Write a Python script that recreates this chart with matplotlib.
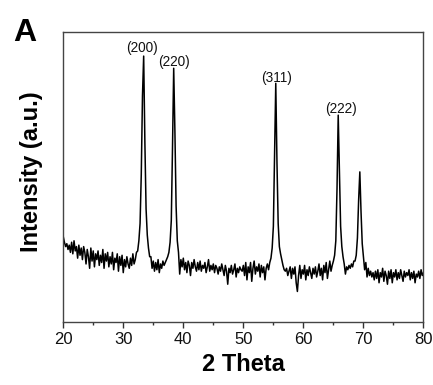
import numpy as np
import matplotlib
matplotlib.use("Agg")
import matplotlib.pyplot as plt
from matplotlib.ticker import MultipleLocator

plt.rcParams['font.family'] = ['Liberation Sans', 'DejaVu Sans']

# 2-theta grid 20.0 ... 80.0 in steps of 0.2 (301 points)
two_theta = np.round(np.arange(0, 301) * 0.2 + 20.0, 1)

intensity = [
    29.5, 27.5, 26.0, 27.0, 25.0, 26.5, 24.0, 27.5, 23.5, 28.0,   # 20.0-21.8
    24.5, 26.0, 22.0, 26.5, 23.0, 25.5, 21.5, 26.0, 24.0, 20.0,   # 22.0-23.8
    25.0, 22.5, 18.5, 25.5, 21.0, 24.5, 19.0, 23.5, 21.5, 24.5,   # 24.0-25.8
    19.5, 23.0, 20.5, 25.0, 18.5, 23.5, 21.0, 24.0, 19.0, 22.5,   # 26.0-27.8
    20.0, 24.0, 18.0, 22.0, 20.5, 23.5, 17.5, 22.5, 19.5, 23.0,   # 28.0-29.8
    17.0, 21.5, 19.0, 22.5, 20.0, 18.5, 22.0, 19.5, 23.5, 20.0,   # 30.0-31.8
    21.5, 24.0, 24.5, 28.0, 34.0, 51.0, 78.0, 91.8, 62.0, 39.0,   # 32.0-33.8
    30.0, 25.5, 22.5, 22.5, 18.5, 21.0, 17.5, 20.5, 18.0, 21.5,   # 34.0-35.8
    17.0, 20.0, 18.5, 21.0, 19.5, 20.5, 21.5, 22.5, 24.0, 27.5,   # 36.0-37.8
    35.0, 60.0, 87.6, 66.0, 40.0, 28.0, 24.0, 16.5, 21.5, 19.0,   # 38.0-39.8
    22.0, 18.0, 20.5, 17.0, 21.0, 19.5, 16.0, 20.5, 18.5, 21.5,   # 40.0-41.8
    19.0, 17.5, 20.5, 18.0, 21.0, 17.5, 19.5, 18.5, 20.5, 17.0,   # 42.0-43.8
    19.0, 21.5, 17.5, 19.5, 18.0, 20.0, 17.0, 19.5, 18.5, 16.5,   # 44.0-45.8
    19.0, 17.5, 20.0, 18.0, 16.0, 19.5, 17.5, 13.0, 18.5, 17.0,   # 46.0-47.8
    19.5, 16.5, 18.0, 20.0, 15.5, 18.5, 17.0, 19.0, 18.0, 17.5,   # 48.0-49.8
    19.5, 16.0, 20.5, 14.5, 19.0, 17.0, 20.5, 14.0, 18.5, 21.0,   # 50.0-51.8
    16.5, 19.0, 17.5, 20.0, 15.5, 19.5, 17.0, 19.0, 14.5, 18.5,   # 52.0-53.8
    20.0, 18.0, 20.5, 22.0, 25.5, 33.0, 58.0, 82.4, 55.0, 34.0,   # 54.0-55.8
    26.0, 23.5, 21.5, 19.5, 18.0, 17.5, 18.5, 16.0, 17.5, 19.0,   # 56.0-57.8
    15.0, 18.5, 16.5, 19.0, 13.5, 10.5, 16.0, 19.5, 15.0, 18.0,   # 58.0-59.8
    16.5, 19.5, 14.5, 18.0, 16.0, 19.0, 17.0, 15.0, 18.5, 16.5,   # 60.0-61.8
    19.0, 15.5, 17.5, 20.0, 16.0, 18.5, 14.5, 19.5, 17.0, 20.5,   # 62.0-63.8
    15.0, 18.0, 21.0, 17.5, 19.5, 21.0, 23.0, 28.0, 46.0, 71.4,   # 64.0-65.8
    52.0, 33.0, 26.0, 22.5, 20.0, 16.5, 19.0, 18.0, 19.5, 18.5,   # 66.0-67.8
    20.0, 19.0, 21.0, 21.0, 23.0, 29.0, 42.0, 51.8, 38.0, 27.0,   # 68.0-69.8
    22.5, 18.0, 20.5, 15.5, 18.5, 16.0, 17.5, 15.5, 17.0, 14.5,   # 70.0-71.8
    17.5, 15.0, 18.0, 13.5, 17.0, 15.5, 18.5, 14.0, 17.5, 16.0,   # 72.0-73.8
    13.0, 17.5, 15.0, 18.0, 13.5, 17.0, 15.5, 18.0, 14.5, 17.0,   # 74.0-75.8
    15.0, 18.0, 16.0, 14.0, 17.5, 15.5, 17.0, 16.0, 18.0, 14.5,   # 76.0-77.8
    17.0, 15.0, 17.5, 13.5, 16.5, 15.5, 17.5, 15.0, 18.0, 16.0,   # 78.0-79.8
    17.0,                                                         # 80.0
]
assert len(intensity) == len(two_theta)

peak_labels = ["(200)", "(220)", "(311)", "(222)"]
label_x = [33.1, 38.5, 55.6, 66.2]
label_y = [94.5, 89.8, 84.4, 73.5]

x_ticks = [20, 30, 40, 50, 60, 70, 80]

fig = plt.figure(figsize=(4.33, 3.85), dpi=100)
ax = fig.add_axes([0.146, 0.164, 0.832, 0.752])

ax.plot(two_theta, intensity, color='black', lw=1.1)

for t, xx, yy in zip(peak_labels, label_x, label_y):
    ax.text(xx, yy, t, ha='center', va='center', fontsize=9.8, color='#111111')

ax.set_xlim(20, 80)
ax.set_ylim(0, 100)
ax.set_xticks(x_ticks)
ax.xaxis.set_minor_locator(MultipleLocator(5))
ax.set_yticks([])
ax.tick_params(axis='x', which='major', direction='out', length=4.5, width=1.0,
               labelsize=12, pad=3, colors='#333333', labelcolor='#111111')
ax.tick_params(axis='x', which='minor', direction='out', length=2.5, width=1.0,
               colors='#333333')
for s in ax.spines.values():
    s.set_color('#444444')
    s.set_linewidth(1.0)

ax.set_xlabel('2 Theta', fontsize=17, fontweight='bold', labelpad=4)
fig.text(0.073, 0.555, 'Intensity (a.u.)', rotation=90, ha='center', va='center',
         fontsize=17, fontweight='bold')
fig.text(0.057, 0.914, 'A', ha='center', va='center', fontsize=23, fontweight='bold')

fig.savefig('out.png', dpi=100)
